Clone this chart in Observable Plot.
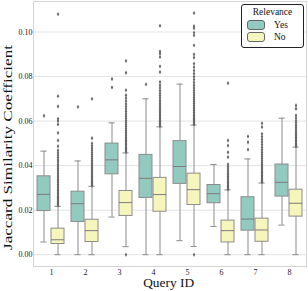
<!DOCTYPE html>
<html>
<head>
<meta charset="utf-8">
<script src="https://cdn.jsdelivr.net/npm/d3@7"></script>
<script src="https://cdn.jsdelivr.net/npm/@observablehq/plot@0.6"></script>
<style>
  body { margin: 0; background: white; }
  #wrap { position: relative; width: 308px; height: 291px; font-family: 'Liberation Serif', serif; }
  #frame { position: absolute; left: 33px; top: 1px; width: 272px; height: 264px; border: 1px solid #d4d4d4; pointer-events: none; }
  #legend { position: absolute; left: 241px; top: 4px; width: 61px; height: 42px; border: 1.2px solid #222; border-radius: 3px; background: white; font-size: 9.5px; color: #111; }
  #legend .title { text-align: center; margin-top: 2px; line-height: 11px; }
  #legend .row { display: flex; align-items: center; height: 11px; margin-top: 1px; }
  #legend .sw { width: 16px; height: 8px; border: 1px solid #666; border-radius: 3px; margin-left: 5px; margin-right: 9px; }
</style>
</head>
<body>
<div id="wrap"></div>
<script>
const queries = ["1", "2", "3", "4", "5", "6", "7", "8"];
const relevance = ["Yes", "No"];
const colors = ["#93cac0", "#f6f5bb"];
const yTicks = [0, 0.02, 0.04, 0.06, 0.08, 0.10];
const yLabel = "Jaccard Similarity Coefficient";
const xLabel = "Query ID";

const yesLow    = [0.0057, 0.0000, 0.0169, 0.0000, 0.0063, 0.0127, 0.0000, 0.0133];
const yesQ1     = [0.0196, 0.0147, 0.0361, 0.0255, 0.0318, 0.0231, 0.0108, 0.0261];
const yesMedian = [0.0271, 0.0229, 0.0426, 0.0343, 0.0396, 0.0274, 0.0160, 0.0325];
const yesQ3     = [0.0352, 0.0283, 0.0499, 0.0448, 0.0510, 0.0313, 0.0258, 0.0405];
const yesHigh   = [0.0465, 0.0421, 0.0592, 0.0700, 0.0766, 0.0405, 0.0430, 0.0613];

const noLow    = [0.0000, 0.0000, 0.0036, 0.0000, 0.0037, 0.0000, 0.0000, 0.0000];
const noQ1     = [0.0048, 0.0057, 0.0174, 0.0193, 0.0223, 0.0055, 0.0058, 0.0171];
const noMedian = [0.0067, 0.0108, 0.0234, 0.0270, 0.0292, 0.0108, 0.0111, 0.0231];
const noQ3     = [0.0117, 0.0157, 0.0286, 0.0345, 0.0364, 0.0153, 0.0162, 0.0292];
const noHigh   = [0.0217, 0.0307, 0.0457, 0.0574, 0.0582, 0.0291, 0.0322, 0.0483];

const yesOutliers = [
  [0.0624],
  [0.0664],
  [0.0751, 0.0789],
  [0.0765],
  [],
  [],
  [0.0472, 0.0505, 0.0531],
  []
];
const noOutliers = [
  [0.0222,0.0226,0.0231,0.0235,0.0240,0.0246,0.0251,0.0257,0.0262,0.0268,0.0275,0.0281,0.0288,0.0294,0.0301,0.0309,0.0316,0.0324,0.0332,0.0340,0.0349,0.0358,0.0367,0.0377,0.0386,0.0395,0.0405,0.0416,0.0425,0.0436,0.0447,0.0457,0.0468,0.0487,0.0513,0.0547,0.0585,0.0600,0.0610,0.0666,0.0712,0.1080],
  [0.0310,0.0314,0.0319,0.0324,0.0329,0.0334,0.0340,0.0346,0.0352,0.0358,0.0364,0.0371,0.0378,0.0385,0.0392,0.0399,0.0407,0.0415,0.0423,0.0431,0.0440,0.0449,0.0458,0.0468,0.0478,0.0489,0.0500,0.0523,0.0700],
  [0.0000,0.0461,0.0466,0.0471,0.0476,0.0482,0.0488,0.0494,0.0500,0.0507,0.0513,0.0520,0.0527,0.0534,0.0542,0.0550,0.0558,0.0566,0.0575,0.0584,0.0593,0.0602,0.0612,0.0622,0.0632,0.0643,0.0654,0.0665,0.0677,0.0690,0.0703,0.0716,0.0739,0.0817,0.0870],
  [0.0577,0.0582,0.0587,0.0592,0.0598,0.0604,0.0610,0.0616,0.0623,0.0630,0.0637,0.0644,0.0652,0.0660,0.0668,0.0677,0.0686,0.0695,0.0705,0.0715,0.0726,0.0737,0.0749,0.0761,0.0775,0.0820,0.0846,0.0888,0.0903,0.0913,0.1028],
  [0.0000,0.0585,0.0590,0.0595,0.0600,0.0606,0.0612,0.0618,0.0625,0.0632,0.0639,0.0646,0.0654,0.0662,0.0670,0.0679,0.0688,0.0697,0.0707,0.0717,0.0727,0.0738,0.0749,0.0761,0.0773,0.0786,0.0799,0.0813,0.0827,0.0842,0.0858,0.0885,0.0900,0.0940,0.0985,0.0997,0.1017,0.1026,0.1085],
  [0.0293,0.0297,0.0302,0.0307,0.0312,0.0318,0.0324,0.0330,0.0337,0.0344,0.0351,0.0359,0.0367,0.0376,0.0385,0.0395,0.0406,0.0438,0.0460,0.0490,0.0513,0.0770],
  [0.0325,0.0329,0.0334,0.0339,0.0344,0.0350,0.0356,0.0362,0.0368,0.0375,0.0382,0.0389,0.0397,0.0405,0.0413,0.0422,0.0431,0.0440,0.0450,0.0460,0.0471,0.0482,0.0494,0.0506,0.0518,0.0530,0.0543,0.0573,0.0590],
  [0.0486,0.0491,0.0496,0.0501,0.0507,0.0513,0.0519,0.0526,0.0533,0.0540,0.0548,0.0556,0.0564,0.0573,0.0582,0.0592,0.0602,0.0613,0.0625,0.0655,0.0670]
];

const rows = queries.flatMap((q, i) => [
  {query: q, rel: "Yes", lo: yesLow[i], q1: yesQ1[i], med: yesMedian[i], q3: yesQ3[i], hi: yesHigh[i]},
  {query: q, rel: "No", lo: noLow[i], q1: noQ1[i], med: noMedian[i], q3: noQ3[i], hi: noHigh[i]}
]);
const fliers = queries.flatMap((q, i) => [
  ...yesOutliers[i].map(v => ({query: q, rel: "Yes", v})),
  ...noOutliers[i].map(v => ({query: q, rel: "No", v}))
]);

const edge = "#8c8c8c";
const plot = Plot.plot({
  width: 308,
  height: 291,
  marginLeft: 33,
  marginRight: 2,
  marginTop: 1,
  marginBottom: 25,
  style: {fontFamily: "'Liberation Serif', serif", fontSize: "8px", background: "white", color: "#222"},
  fx: {domain: queries, padding: 0, label: null},
  x: {domain: relevance, paddingInner: 0.06, paddingOuter: 0.24, axis: null},
  y: {domain: [-0.0053, 0.1137], label: null},
  color: {domain: relevance, range: colors},
  marks: [
    Plot.gridY(yTicks, {stroke: "#dcdcdc", strokeOpacity: 1, strokeWidth: 0.8}),
    Plot.axisY(yTicks, {tickSize: 0, tickPadding: 2, tickFormat: ".2f", label: null}),
    Plot.axisFx({anchor: "bottom", tickSize: 0, tickPadding: 3, label: null}),
    Plot.ruleX(rows, {fx: "query", x: "rel", y1: "lo", y2: "q1", stroke: edge, strokeWidth: 1}),
    Plot.ruleX(rows, {fx: "query", x: "rel", y1: "q3", y2: "hi", stroke: edge, strokeWidth: 1}),
    Plot.tickY(rows, {fx: "query", x: "rel", y: "lo", stroke: edge, strokeWidth: 1, insetLeft: 3.4, insetRight: 3.4}),
    Plot.tickY(rows, {fx: "query", x: "rel", y: "hi", stroke: edge, strokeWidth: 1, insetLeft: 3.4, insetRight: 3.4}),
    Plot.barY(rows, {fx: "query", x: "rel", y1: "q1", y2: "q3", fill: "rel", stroke: edge, strokeWidth: 1}),
    Plot.tickY(rows, {fx: "query", x: "rel", y: "med", stroke: "#7b7b7b", strokeWidth: 1}),
    Plot.dot(fliers, {fx: "query", x: "rel", y: "v", symbol: "diamond", r: 1.3, fill: "#666", stroke: "none"})
  ]
});

const wrap = document.getElementById("wrap");
wrap.appendChild(plot);

// axis titles
const svg = d3.select(plot);
svg.append("text")
  .attr("transform", "translate(11.5,147.5) rotate(-90)")
  .attr("text-anchor", "middle")
  .attr("font-size", 12.5)
  .attr("fill", "#111")
  .attr("textLength", 205)
  .attr("lengthAdjust", "spacingAndGlyphs")
  .text(yLabel);
svg.append("text")
  .attr("x", 168.7)
  .attr("y", 287)
  .attr("text-anchor", "middle")
  .attr("font-size", 12)
  .attr("fill", "#111")
  .attr("textLength", 51)
  .attr("lengthAdjust", "spacingAndGlyphs")
  .text(xLabel);

const frame = document.createElement("div");
frame.id = "frame";
wrap.appendChild(frame);

const legend = d3.select(wrap).append("div").attr("id", "legend");
legend.append("div").attr("class", "title").text("Relevance");
relevance.forEach((r, i) => {
  const row = legend.append("div").attr("class", "row");
  row.append("div").attr("class", "sw").style("background", colors[i]);
  row.append("span").text(r);
});
</script>
</body>
</html>
